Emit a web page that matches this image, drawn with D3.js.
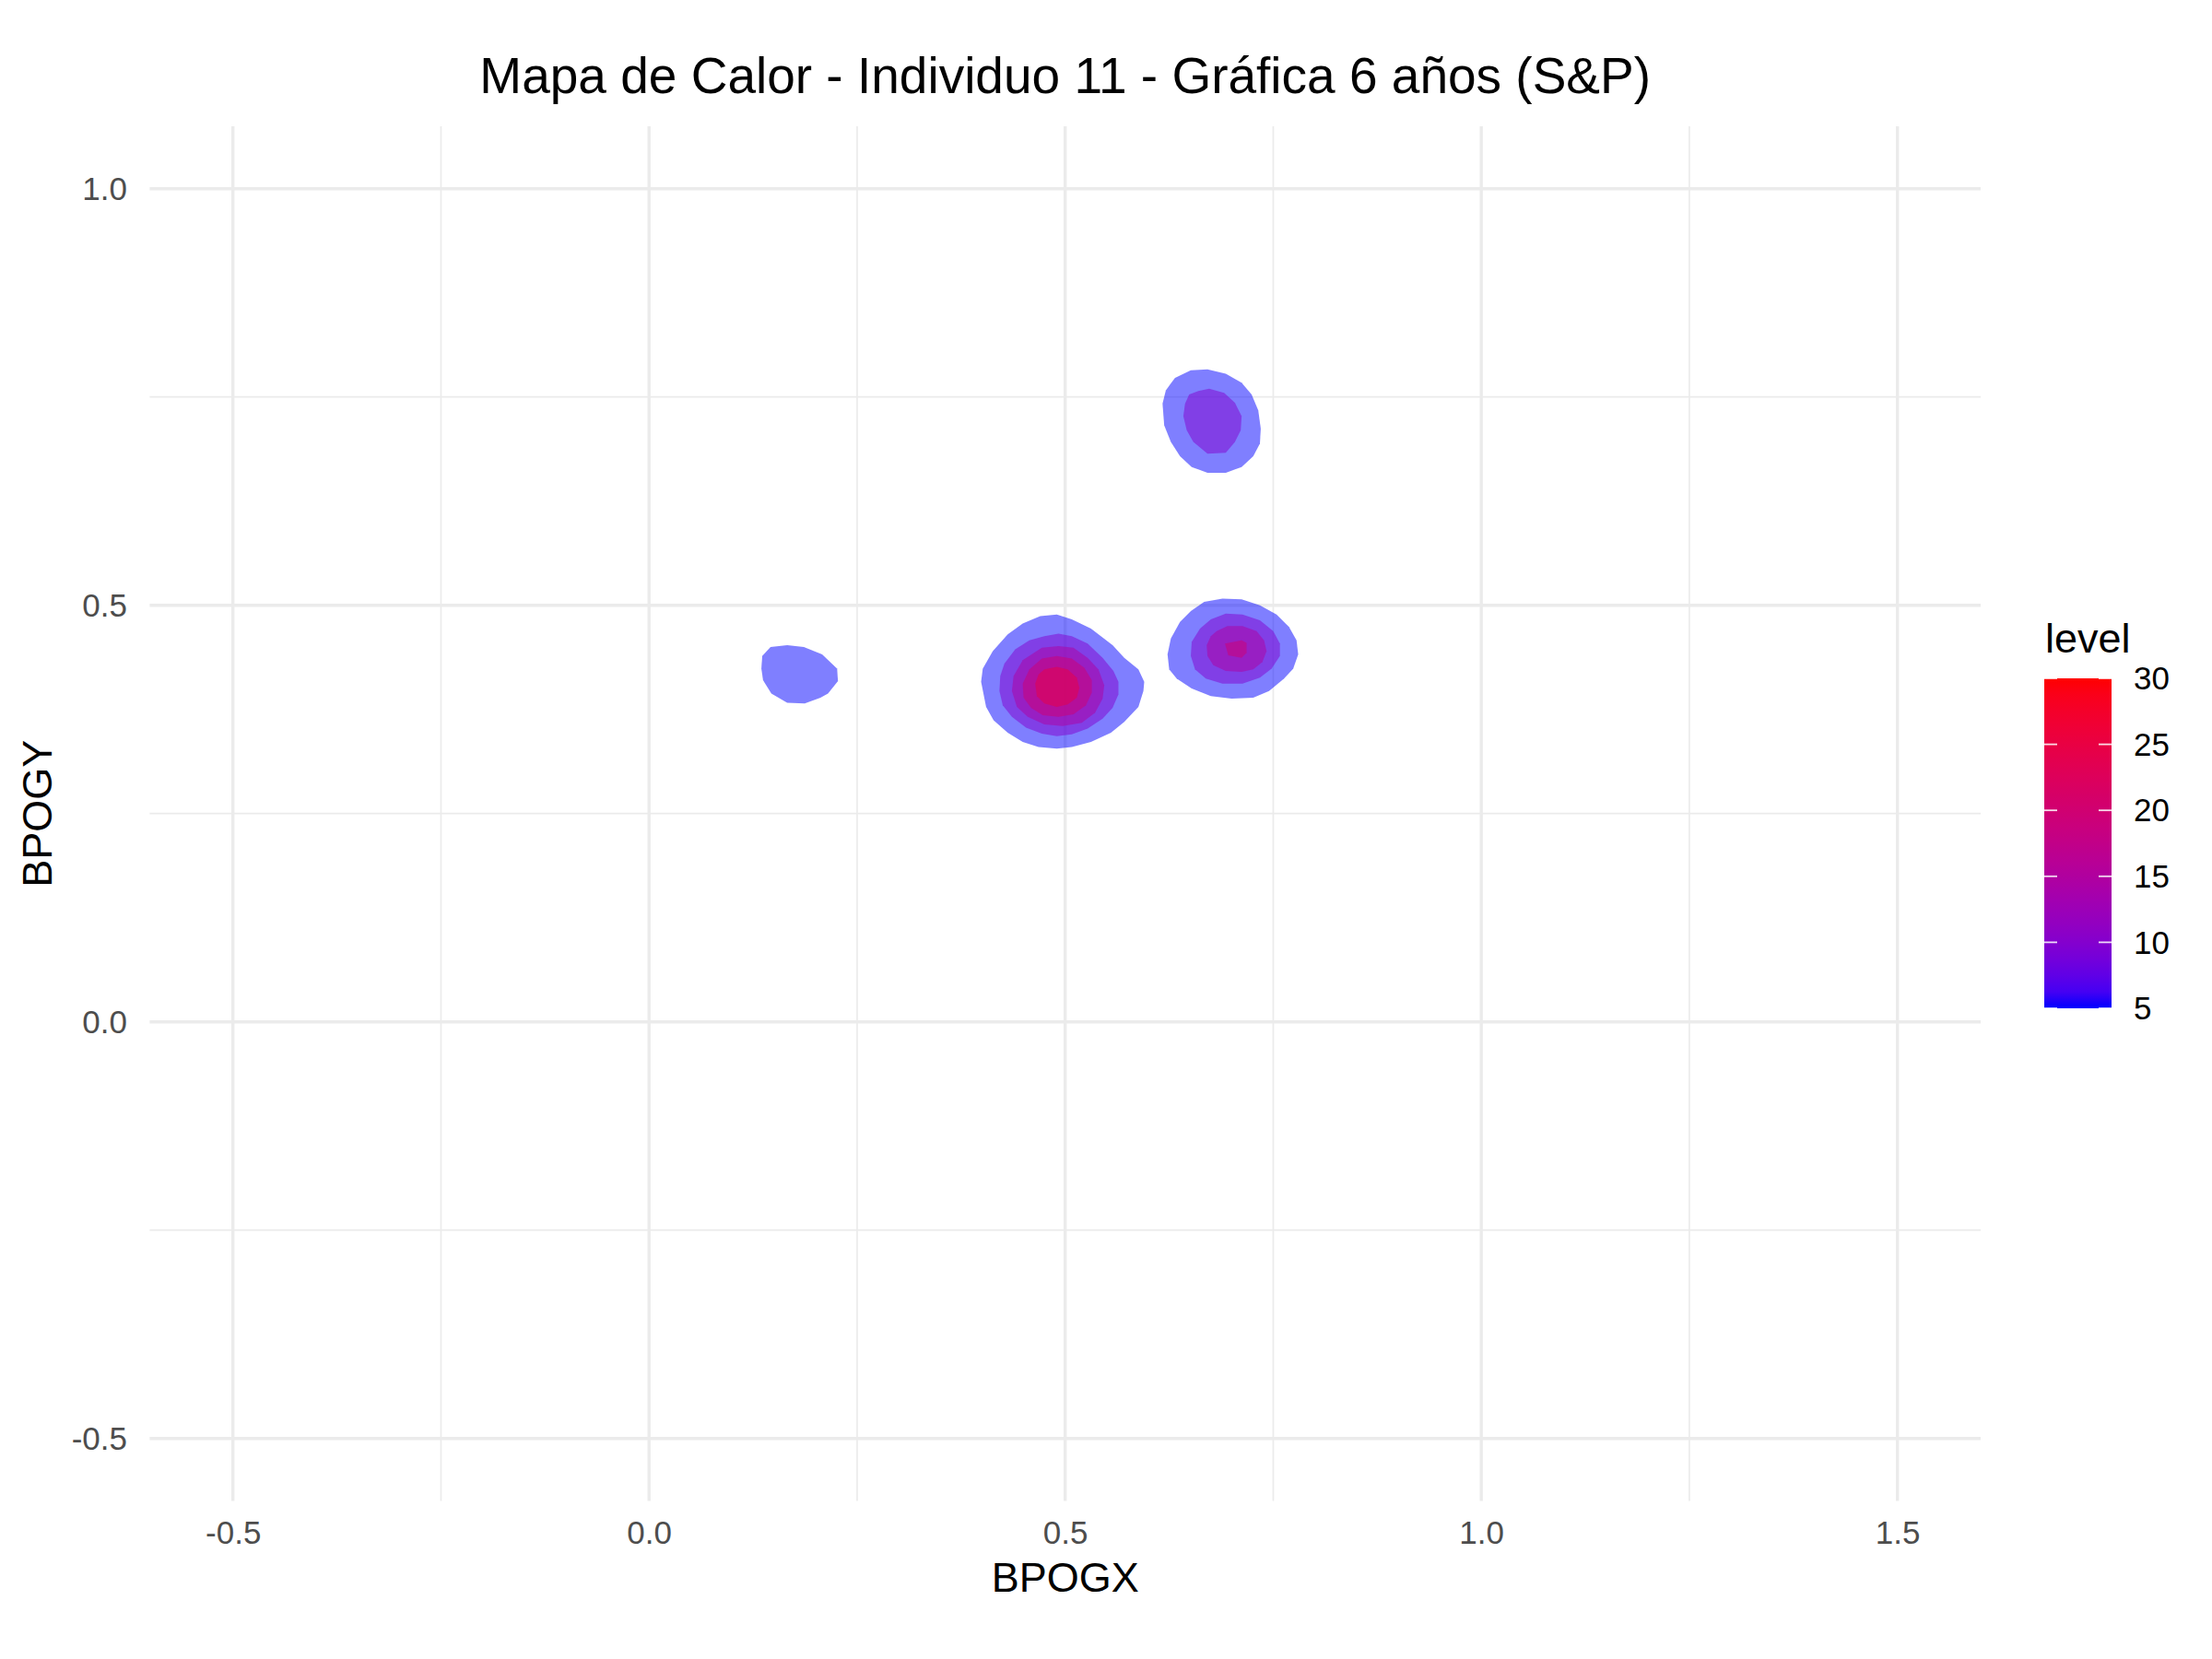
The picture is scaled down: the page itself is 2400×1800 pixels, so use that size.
<!DOCTYPE html>
<html>
<head>
<meta charset="utf-8">
<script src="https://cdn.jsdelivr.net/npm/d3@7"></script>
<style>
  html, body { margin: 0; padding: 0; background: #ffffff; }
  text { font-family: "Liberation Sans", Arial, Helvetica, sans-serif; }
</style>
</head>
<body>
<svg id="chart" width="2400" height="1800"></svg>
<script>
// ---------------- data ----------------
const titleText = "Mapa de Calor - Individuo 11 - Gráfica 6 años (S&P)";
const xLabel = "BPOGX";
const yLabel = "BPOGY";
const legendTitle = "level";

const xDomain = [-0.6, 1.6];
const yDomain = [-0.575, 1.075];
const xTicks = [-0.5, 0.0, 0.5, 1.0, 1.5];
const yTicks = [-0.5, 0.0, 0.5, 1.0];
const xTickLabels = ["-0.5", "0.0", "0.5", "1.0", "1.5"];
const yTickLabels = ["-0.5", "0.0", "0.5", "1.0"];
const xMinor = [-0.25, 0.25, 0.75, 1.25];
const yMinor = [-0.25, 0.25, 0.75];
const levelTicks = [5, 10, 15, 20, 25, 30];
const levelRange = [5, 30];

// contour polygons (x = BPOGX, y = BPOGY)
const leftBlob5 = [[0.146,0.450],[0.166,0.452],[0.186,0.450],[0.208,0.441],[0.226,0.424],[0.227,0.409],[0.215,0.394],[0.206,0.389],[0.187,0.382],[0.166,0.383],[0.147,0.394],[0.137,0.410],[0.135,0.424],[0.136,0.439]];

const centerBlob5 = [[0.470,0.487],[0.490,0.489],[0.508,0.483],[0.531,0.472],[0.557,0.452],[0.571,0.437],[0.588,0.423],[0.595,0.408],[0.594,0.397],[0.588,0.378],[0.571,0.360],[0.555,0.347],[0.531,0.336],[0.508,0.330],[0.490,0.328],[0.468,0.330],[0.449,0.336],[0.431,0.347],[0.414,0.362],[0.405,0.378],[0.399,0.408],[0.401,0.424],[0.413,0.445],[0.431,0.465],[0.449,0.478]];
const centerBlob10 = [[0.475,0.463],[0.492,0.466],[0.508,0.463],[0.527,0.454],[0.545,0.437],[0.558,0.421],[0.564,0.408],[0.564,0.393],[0.557,0.377],[0.545,0.364],[0.527,0.352],[0.508,0.345],[0.490,0.343],[0.472,0.346],[0.453,0.353],[0.436,0.366],[0.425,0.380],[0.421,0.397],[0.422,0.415],[0.427,0.430],[0.440,0.447],[0.457,0.458]];
const centerBlob15 = [[0.472,0.449],[0.492,0.451],[0.510,0.449],[0.527,0.437],[0.540,0.423],[0.547,0.404],[0.545,0.388],[0.536,0.371],[0.520,0.359],[0.497,0.355],[0.475,0.357],[0.455,0.366],[0.442,0.378],[0.436,0.397],[0.438,0.415],[0.449,0.434]];
const centerBlob20 = [[0.472,0.436],[0.490,0.439],[0.508,0.436],[0.523,0.425],[0.532,0.410],[0.532,0.395],[0.525,0.380],[0.510,0.369],[0.492,0.366],[0.473,0.368],[0.459,0.377],[0.450,0.389],[0.449,0.406],[0.457,0.423]];
const centerBlob25 = [[0.475,0.423],[0.490,0.426],[0.503,0.423],[0.514,0.413],[0.517,0.401],[0.514,0.389],[0.503,0.381],[0.490,0.378],[0.475,0.382],[0.466,0.391],[0.464,0.406],[0.468,0.417]];

const rightBlob5 = [[0.667,0.504],[0.689,0.508],[0.712,0.507],[0.734,0.500],[0.754,0.489],[0.769,0.474],[0.778,0.458],[0.780,0.441],[0.774,0.424],[0.763,0.412],[0.745,0.397],[0.726,0.389],[0.700,0.388],[0.675,0.391],[0.652,0.400],[0.634,0.412],[0.625,0.423],[0.623,0.441],[0.627,0.460],[0.638,0.480],[0.651,0.493]];
const rightBlob10 = [[0.675,0.483],[0.693,0.490],[0.713,0.489],[0.734,0.482],[0.750,0.469],[0.758,0.454],[0.758,0.439],[0.748,0.424],[0.734,0.413],[0.713,0.406],[0.689,0.406],[0.669,0.412],[0.656,0.423],[0.651,0.439],[0.652,0.456],[0.662,0.472]];
const rightBlob15 = [[0.682,0.469],[0.695,0.475],[0.713,0.475],[0.730,0.469],[0.739,0.458],[0.742,0.445],[0.737,0.432],[0.726,0.423],[0.712,0.420],[0.693,0.421],[0.678,0.428],[0.671,0.439],[0.670,0.452],[0.675,0.463]];
const rightBlob20 = [[0.692,0.454],[0.712,0.458],[0.718,0.455],[0.718,0.443],[0.712,0.437],[0.696,0.440]];

const topBlob5 = [[0.632,0.773],[0.651,0.782],[0.671,0.783],[0.693,0.778],[0.712,0.767],[0.724,0.753],[0.732,0.734],[0.735,0.712],[0.734,0.694],[0.726,0.679],[0.712,0.666],[0.693,0.659],[0.671,0.659],[0.652,0.666],[0.638,0.679],[0.627,0.696],[0.619,0.716],[0.617,0.742],[0.621,0.758]];
const topBlob10 = [[0.649,0.753],[0.660,0.757],[0.673,0.760],[0.691,0.755],[0.704,0.743],[0.712,0.727],[0.711,0.710],[0.704,0.696],[0.693,0.683],[0.671,0.682],[0.654,0.696],[0.646,0.710],[0.642,0.727],[0.644,0.742]];

const contourLevels = [5, 5, 5, 5, 10, 10, 10, 15, 15, 20, 20, 25];
const contourShapes = [leftBlob5, centerBlob5, rightBlob5, topBlob5,
                       centerBlob10, rightBlob10, topBlob10,
                       centerBlob15, rightBlob15,
                       centerBlob20, rightBlob20,
                       centerBlob25];

// ---------------- layout ----------------
const panel = { left: 162.4, right: 2149, top: 136.9, bottom: 1628.5 };
const svg = d3.select("#chart");

const x = d3.scaleLinear().domain(xDomain).range([panel.left, panel.right]);
const y = d3.scaleLinear().domain(yDomain).range([panel.bottom, panel.top]);
const fill = d3.scaleLinear().domain(levelRange).range(["#0000FF", "#FF0000"]).interpolate(d3.interpolateLab);

svg.append("rect").attr("width", 2400).attr("height", 1800).attr("fill", "#ffffff");

// grid
const grid = svg.append("g");
grid.selectAll("line.xminor").data(xMinor).join("line")
  .attr("x1", d => x(d)).attr("x2", d => x(d))
  .attr("y1", panel.top).attr("y2", panel.bottom)
  .attr("stroke", "#EBEBEB").attr("stroke-width", 1.7);
grid.selectAll("line.yminor").data(yMinor).join("line")
  .attr("y1", d => y(d)).attr("y2", d => y(d))
  .attr("x1", panel.left).attr("x2", panel.right)
  .attr("stroke", "#EBEBEB").attr("stroke-width", 1.7);
grid.selectAll("line.xmajor").data(xTicks).join("line")
  .attr("x1", d => x(d)).attr("x2", d => x(d))
  .attr("y1", panel.top).attr("y2", panel.bottom)
  .attr("stroke", "#EBEBEB").attr("stroke-width", 3.4);
grid.selectAll("line.ymajor").data(yTicks).join("line")
  .attr("y1", d => y(d)).attr("y2", d => y(d))
  .attr("x1", panel.left).attr("x2", panel.right)
  .attr("stroke", "#EBEBEB").attr("stroke-width", 3.4);

// contours
const line = d3.line().x(d => x(d[0])).y(d => y(d[1])).curve(d3.curveLinearClosed);
svg.append("g").selectAll("path").data(contourShapes).join("path")
  .attr("d", d => line(d))
  .attr("fill", (d, i) => fill(contourLevels[i]))
  .attr("fill-opacity", 0.5)
  .attr("stroke", "none");

// axes (labels only, like theme_minimal)
const xAxis = d3.axisBottom(x).tickValues(xTicks)
  .tickFormat((d, i) => xTickLabels[i]).tickSize(0).tickPadding(0);
const gx = svg.append("g").attr("transform", `translate(0,${1675})`).call(xAxis);
gx.select(".domain").remove();
gx.selectAll("text").attr("dy", 0).attr("y", 0)
  .attr("font-size", 35).attr("fill", "#4D4D4D")
  .style("font-family", "'Liberation Sans', Arial, sans-serif");

const yAxis = d3.axisLeft(y).tickValues(yTicks)
  .tickFormat((d, i) => yTickLabels[i]).tickSize(0).tickPadding(0);
const gy = svg.append("g").attr("transform", `translate(${138},0)`).call(yAxis);
gy.select(".domain").remove();
gy.selectAll("text").attr("x", 0).attr("dy", "0.35em")
  .attr("font-size", 35).attr("fill", "#4D4D4D")
  .style("font-family", "'Liberation Sans', Arial, sans-serif");

// titles
svg.append("text").attr("x", (panel.left + panel.right) / 2).attr("y", 101)
  .attr("text-anchor", "middle").attr("font-size", 55).attr("fill", "#000")
  .text(titleText);
svg.append("text").attr("x", (panel.left + panel.right) / 2).attr("y", 1727)
  .attr("text-anchor", "middle").attr("font-size", 45).attr("fill", "#000")
  .text(xLabel);
svg.append("text")
  .attr("transform", `translate(56,${(panel.top + panel.bottom) / 2}) rotate(-90)`)
  .attr("text-anchor", "middle").attr("font-size", 45).attr("fill", "#000")
  .text(yLabel);

// legend (colourbar)
const bar = { left: 2218, width: 73, top: 736, bottom: 1094 };
const lg = d3.scaleLinear().domain(levelRange).range([bar.bottom, bar.top]);
const defs = svg.append("defs");
const grad = defs.append("linearGradient").attr("id", "lvlgrad")
  .attr("x1", 0).attr("y1", 1).attr("x2", 0).attr("y2", 0);
const stopVals = d3.range(0, 21).map(i => levelRange[0] + i * (levelRange[1] - levelRange[0]) / 20);
grad.selectAll("stop").data(stopVals).join("stop")
  .attr("offset", d => (d - levelRange[0]) / (levelRange[1] - levelRange[0]))
  .attr("stop-color", d => fill(d));
svg.append("rect").attr("x", bar.left).attr("y", bar.top)
  .attr("width", bar.width).attr("height", bar.bottom - bar.top)
  .attr("fill", "url(#lvlgrad)");
const lt = svg.append("g");
lt.selectAll("line.l").data(levelTicks).join("line")
  .attr("x1", bar.left).attr("x2", bar.left + 14)
  .attr("y1", d => lg(d)).attr("y2", d => lg(d))
  .attr("stroke", "#ffffff").attr("stroke-opacity", 0.85).attr("stroke-width", 1.8);
lt.selectAll("line.r").data(levelTicks).join("line")
  .attr("x1", bar.left + bar.width - 14).attr("x2", bar.left + bar.width)
  .attr("y1", d => lg(d)).attr("y2", d => lg(d))
  .attr("stroke", "#ffffff").attr("stroke-opacity", 0.85).attr("stroke-width", 1.8);
lt.selectAll("text").data(levelTicks).join("text")
  .attr("x", 2315).attr("y", d => lg(d)).attr("dy", "0.35em")
  .attr("font-size", 35).attr("fill", "#000")
  .text(d => d);
svg.append("text").attr("x", 2219).attr("y", 708)
  .attr("font-size", 45).attr("fill", "#000").text(legendTitle);
</script>
</body>
</html>
